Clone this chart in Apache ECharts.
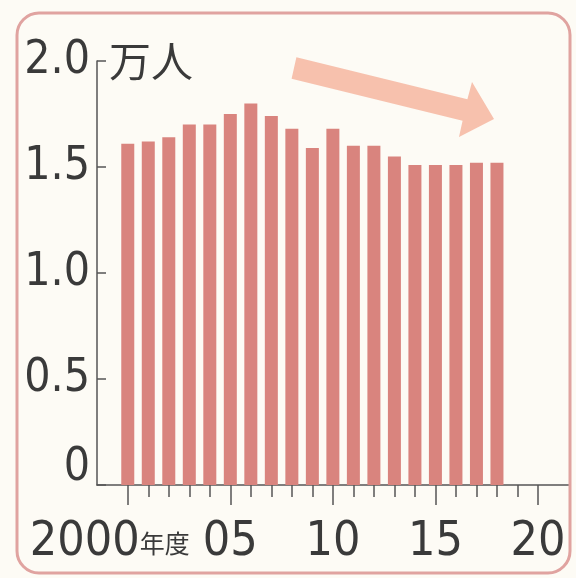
<!DOCTYPE html>
<html><head><meta charset="utf-8">
<script src="https://cdn.jsdelivr.net/npm/echarts@6/dist/echarts.min.js"></script>
<style>html,body{margin:0;padding:0;background:#fdfaf5}#c{width:576px;height:578px}</style>
</head><body><div id="c"></div>
<script>
const years = [2000,2001,2002,2003,2004,2005,2006,2007,2008,2009,2010,2011,2012,2013,2014,2015,2016,2017,2018];
const values = [1.61,1.62,1.64,1.70,1.70,1.75,1.80,1.74,1.68,1.59,1.68,1.60,1.60,1.55,1.51,1.51,1.51,1.52,1.52];
const tickYears = [2000,2001,2002,2003,2004,2005,2006,2007,2008,2009,2010,2011,2012,2013,2014,2015,2016,2017,2018,2019,2020];
const majorYears = [2000,2005,2010,2015,2020];
const labelYears = [2005,2010,2015,2020];
const labelTexts = ['05','10','15','20'];
const firstYear = [2000];
const firstText = ['2000', '年度'];
const yTicks = [0,0.5,1.0,1.5,2.0];
const yLabels = ['0','0.5','1.0','1.5','2.0'];
const unitText = '万人';

const NUM = "'DejaVu Sans Condensed','DejaVu Sans','Noto Sans CJK JP',sans-serif";
const CJK = "'Noto Sans CJK JP',sans-serif";
const axisColor = '#555';
const textColor = '#3a3a3a';
const xFont = 48;

function hiddenX(extra) {
  return Object.assign({
    type: 'value', min: 1998.5, max: 2021.5, position: 'bottom', offset: 0,
    axisLine: {show: false}, splitLine: {show: false}
  }, extra);
}

const chart = echarts.init(document.getElementById('c'), null, {renderer:'canvas'});
chart.setOption({
  backgroundColor: '#fdfbf5',
  animation: false,
  grid: {left: 97, top: 61, right: 7.25, bottom: 93},
  xAxis: [
    hiddenX({
      axisLine: {show: true, onZero: false, lineStyle: {color: axisColor, width: 1.5}},
      axisTick: {show: true, customValues: tickYears, length: 12, lineStyle: {color: axisColor, width: 1.5}},
      axisLabel: {show: false}
    }),
    hiddenX({
      axisTick: {show: true, customValues: majorYears, length: 20, lineStyle: {color: axisColor, width: 1.5}},
      axisLabel: {
        show: true, customValues: labelYears, margin: 34, color: textColor,
        showMinLabel: true, showMaxLabel: true, hideOverlap: false,
        fontFamily: NUM, fontSize: xFont,
        formatter: function (v) { return labelTexts[labelYears.indexOf(Math.round(v))]; }
      }
    }),
    hiddenX({
      axisTick: {show: false},
      axisLabel: {
        show: true, customValues: firstYear, margin: 34, color: textColor,
        showMinLabel: true, showMaxLabel: true, hideOverlap: false,
        fontFamily: NUM, fontSize: xFont,
        formatter: function () { return '{a|' + firstText[0] + '}{b|' + firstText[1] + '}'; },
        rich: {
          a: {fontFamily: NUM, fontSize: xFont, color: textColor},
          b: {fontFamily: CJK, fontSize: 25, color: textColor, padding: [0, 36, 0, 0]}
        }
      }
    })
  ],
  yAxis: {
    type: 'value', min: 0, max: 2, interval: 0.5,
    name: unitText, nameLocation: 'end', nameGap: 0,
    nameTextStyle: {fontFamily: CJK, fontSize: 42, color: textColor, align: 'left', verticalAlign: 'middle', padding: [0, 0, 0, 12]},
    axisLine: {show: true, lineStyle: {color: axisColor, width: 1.5}},
    axisTick: {show: true, inside: true, length: 9, lineStyle: {color: axisColor, width: 1.5}},
    axisLabel: {
      margin: 7, color: textColor, fontFamily: NUM, fontSize: 46,
      formatter: function (v) {
        const i = yTicks.findIndex(t => Math.abs(t - v) < 1e-6);
        const s = yLabels[i];
        return v === 0 ? '{z|' + s + '}' : s;
      },
      rich: {z: {fontFamily: NUM, fontSize: 46, color: textColor, padding: [0, 0, 34, 0]}}
    },
    splitLine: {show: false}
  },
  series: [{
    type: 'bar', xAxisIndex: 0, barWidth: 13,
    itemStyle: {color: '#d9847e'},
    data: years.map((y, i) => [y, values[i]])
  }],
  graphic: [
    {type: 'rect', shape: {x: 17, y: 13, width: 553, height: 560, r: 22}, style: {fill: 'none', stroke: '#e0a3a0', lineWidth: 3}, z: 10},
    {type: 'polygon', shape: {points: [[296.4,57.3],[467.4,99.3],[472,82],[494,119],[459,137],[462.6,120.7],[291.6,78.7]]}, style: {fill: '#f6b6a0', opacity: 0.85}, z: 1}
  ]
});
</script>
</body></html>
